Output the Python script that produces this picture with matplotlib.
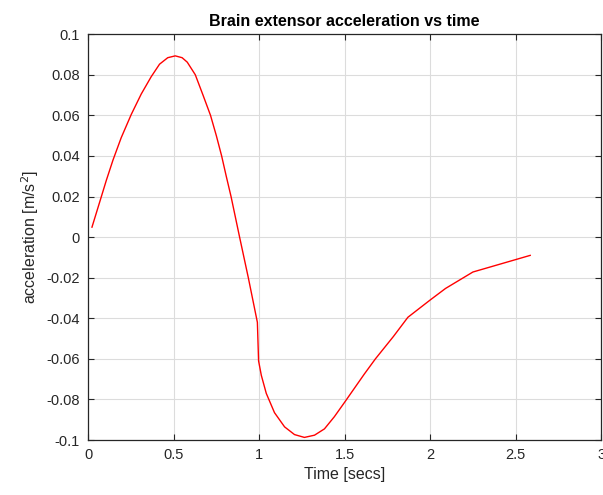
import numpy as np
import matplotlib.pyplot as plt

# kurva hasil pembacaan dari gambar
time = [0.023, 0.078, 0.107, 0.146, 0.194, 0.253, 0.311, 0.369, 0.418, 0.466,
        0.51, 0.55, 0.58, 0.627, 0.672, 0.716, 0.75, 0.781, 0.808, 0.836,
        0.886, 0.937, 0.99, 0.997, 1.013, 1.042, 1.09, 1.149, 1.207, 1.265,
        1.324, 1.382, 1.44, 1.499, 1.557, 1.615, 1.68, 1.785, 1.87, 2.0,
        2.09, 2.25, 2.585]
accel = [0.0049, 0.020, 0.028, 0.038, 0.049, 0.0605, 0.0705, 0.079, 0.0852, 0.0884,
         0.0893, 0.0884, 0.0862, 0.080, 0.070, 0.060, 0.050, 0.040, 0.030, 0.020,
         0.0, -0.020, -0.042, -0.061, -0.0681, -0.077, -0.0865, -0.0935, -0.0973, -0.0987,
         -0.0976, -0.0945, -0.0885, -0.0815, -0.0745, -0.0675, -0.060, -0.049, -0.0395, -0.031,
         -0.0253, -0.0172, -0.009]

xticks = [0, 0.5, 1, 1.5, 2, 2.5, 3]
xticklabels = ['0', '0.5', '1', '1.5', '2', '2.5', '3']
yticks = [0.1, 0.08, 0.06, 0.04, 0.02, 0, -0.02, -0.04, -0.06, -0.08, -0.1]
yticklabels = ['0.1', '0.08', '0.06', '0.04', '0.02', '0', '-0.02', '-0.04', '-0.06', '-0.08', '-0.1']

plt.rcParams['font.family'] = ['Liberation Sans', 'DejaVu Sans']

fig = plt.figure(figsize=(6.03, 4.95), dpi=100)
ax = fig.add_axes([0.146, 0.111, 0.851, 0.82])

ax.plot(time, accel, color='#ff0000', linewidth=1.0)

ax.set_xlim(0, 3)
ax.set_ylim(-0.1, 0.1)
ax.set_xticks(xticks)
ax.set_xticklabels(xticklabels)
ax.set_yticks(yticks)
ax.set_yticklabels(yticklabels)
ax.tick_params(direction='in', top=True, right=True, labelsize=10.5,
               colors='#262626', length=4, width=0.8, pad=6)
ax.grid(True, color='#dcdcdc', linewidth=0.8)
ax.set_axisbelow(True)
for s in ax.spines.values():
    s.set_color('#262626')
    s.set_linewidth(0.9)

ax.set_title('Brain extensor acceleration vs time', fontsize=11.5,
             fontweight='bold', color='black', pad=6)
ax.set_xlabel('Time [secs]', fontsize=11.5, color='#262626', labelpad=3)
ax.set_ylabel('acceleration [m/s$^2$]', fontsize=11.5, color='#262626', labelpad=4)

fig.savefig('out.png', dpi=100)
